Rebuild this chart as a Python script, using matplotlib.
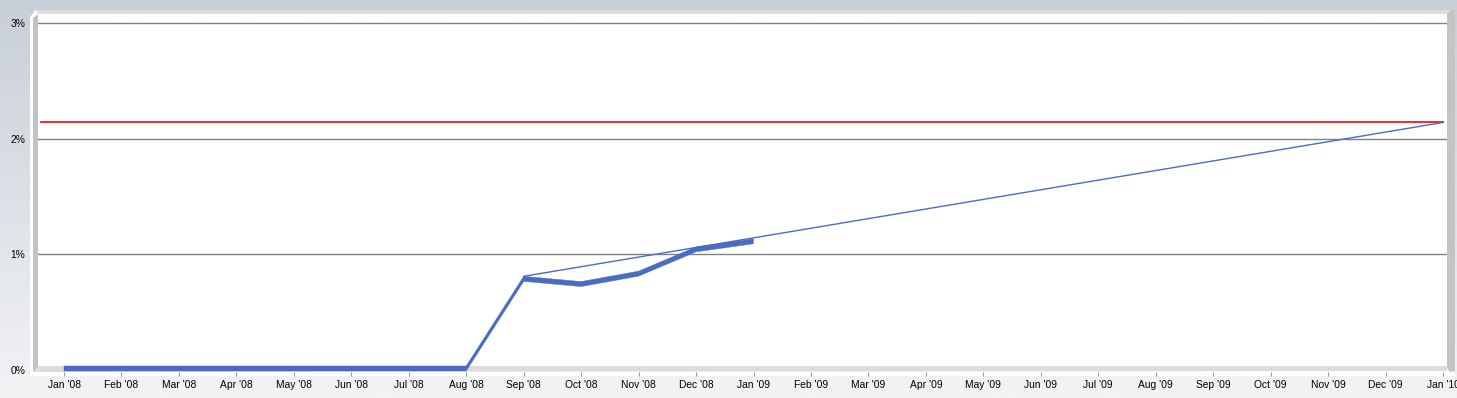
import matplotlib
matplotlib.use("Agg")
import matplotlib.pyplot as plt
import numpy as np
from matplotlib.patches import Rectangle, Polygon

# data (percent)
months = ["Jan '08", "Feb '08", "Mar '08", "Apr '08", "May '08", "Jun '08", "Jul '08",
          "Aug '08", "Sep '08", "Oct '08", "Nov '08", "Dec '08", "Jan '09", "Feb '09",
          "Mar '09", "Apr '09", "May '09", "Jun '09", "Jul '09", "Aug '09", "Sep '09",
          "Oct '09", "Nov '09", "Dec '09", "Jan '10"]
actual = [0, 0, 0, 0, 0, 0, 0, 0, 0.775, 0.73, 0.82, 1.03, 1.10]
trend_x = [8, 24]
trend_y = [0.81, 2.14]
target = 2.14
yticks = [0, 1, 2, 3]

W, H = 1457, 398
fig = plt.figure(figsize=(W / 100, H / 100), dpi=100)

# gradient background
bg = fig.add_axes([0, 0, 1, 1], zorder=-5)
top = np.array([200, 207, 216]) / 255
bot = np.array([242, 243, 245]) / 255
t = np.linspace(0, 1, 200)[:, None]
grad = (top * (1 - t) + bot * t)[:, None, :]
bg.imshow(grad, aspect="auto", extent=[0, 1, 0, 1])
bg.set_axis_off()


def fpoly(pts, color, z=-3):
    fig.add_artist(Polygon([(x / W, 1 - y / H) for x, y in pts], closed=True,
                           facecolor=color, edgecolor="none", zorder=z))


# 3d-ish frame
fpoly([(30, 17), (36, 10), (1455, 10), (1455, 376), (30, 376)], "white")
fpoly([(33, 18), (38, 14), (38, 368), (33, 372)], "#c2c2c2", z=-2)
fpoly([(36, 10), (1450, 10), (1447, 14), (38, 14)], "#dedede", z=-2)
fpoly([(1447, 14), (1450, 10), (1455, 10), (1455, 371), (1450, 372), (1447, 368)],
      "#c4c4c4", z=-2)
fpoly([(33, 372), (38, 366), (1447, 366), (1447, 371), (1442, 371)], "#dcdcdc", z=-2)

# axes mapped onto the plot wall
ppm = (1443 - 64) / 24
ppp = (370 - 23) / 3
L, R, T, B = 38, 1447, 14, 372
ax = fig.add_axes([L / W, 1 - B / H, (R - L) / W, (B - T) / H], zorder=0)
ax.set_facecolor("none")
ax.set_xlim((L - 64) / ppm, (R - 64) / ppm)
ax.set_ylim((370 - B) / ppp, (370 - T) / ppp)
for s in ax.spines.values():
    s.set_visible(False)

for v in yticks[1:]:
    ax.axhline(v, color="#808080", lw=1.0, zorder=1)

x_lo = (41 - 64) / ppm
ax.plot([x_lo, 24], [target, target], color="#ff0000", lw=1.2, zorder=2)
ax.plot(trend_x, trend_y, color="#4a6cc4", lw=1.0, zorder=3)

# ribbon-like 3d line
xs = np.arange(len(actual))
ys = np.array(actual)
lo = ys - 1 / ppp
hi = ys + 4 / ppp
ax.fill(np.concatenate([xs, xs[::-1]]), np.concatenate([lo, hi[::-1]]),
        color="#4a6cc0", lw=0.3, ec="#4a6cc0", zorder=4)

ax.set_xticks(range(len(months)))
ax.set_xticklabels(months, fontsize=7.4, family="Liberation Sans")
ax.tick_params(axis="x", length=3, color="#9a9a9a", pad=2.5)
ax.set_yticks(yticks)
ax.set_yticklabels([f"{v}%" for v in yticks], fontsize=7.4, family="Liberation Sans")
ax.tick_params(axis="y", length=0, pad=9)

fig.savefig("out.png", dpi=100)
